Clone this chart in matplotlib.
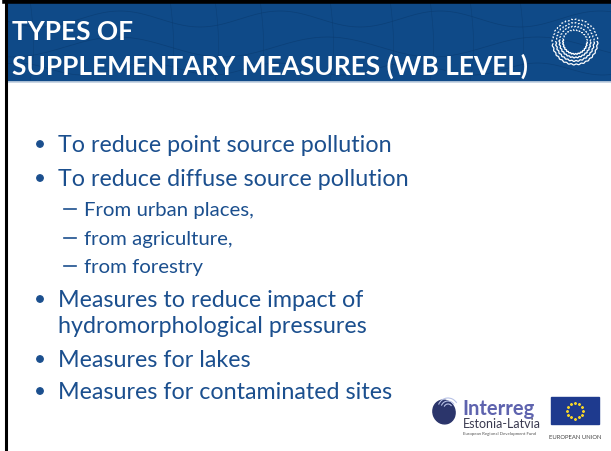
import numpy as np
import matplotlib
matplotlib.use('Agg')
import matplotlib.pyplot as plt
from matplotlib.patches import Rectangle, Circle, Ellipse, Arc

# slide texts
title_lines = ['TYPES OF', 'SUPPLEMENTARY MEASURES (WB LEVEL)']
items = ['To reduce point source pollution',
         'To reduce diffuse source pollution',
         'From urban places,',
         'from agriculture,',
         'from forestry',
         'Measures to reduce impact of',
         'hydromorphological pressures',
         'Measures for lakes',
         'Measures for contaminated sites']
levels = [1, 1, 2, 2, 2, 1, 0, 1, 1]   # 0 = wrapped line, no bullet
baselines = [152, 186, 216, 245, 273, 307, 333, 367, 399]

W, H = 611, 452
header_blue = '#0F4A88'
text_blue = '#1B4F8E'
FONT = 'Lato'

fig = plt.figure(figsize=(W/100, H/100), dpi=100)
ax = fig.add_axes([0, 0, 1, 1])
ax.set_xlim(0, W)
ax.set_ylim(H, 0)
ax.axis('off')
renderer = fig.canvas.get_renderer()

def fit(t, width):
    # scale font size so the text spans the wanted width in pixels
    bb = t.get_window_extent(renderer)
    t.set_fontsize(t.get_fontsize()*width/bb.width)
    return t.get_fontsize()

# frame + header
ax.add_patch(Rectangle((0, 0), W, H, color='white', zorder=0))
ax.add_patch(Rectangle((6, 4), W-6, 78, color=header_blue, zorder=1))
ax.plot([6, W], [82.5, 82.5], color='#C9D6E4', lw=1.2, zorder=2)
ax.plot([5.5, 5.5], [0, H], color='black', lw=2.2, zorder=5)
ax.plot([5, W], [2, 2], color='black', lw=4, zorder=5)

# faint map contours in header
xs = np.linspace(6, W, 300)
for k, (y0, amp, per) in enumerate([(20, 8, 160), (48, 10, 210), (70, 6, 130)]):
    ys = y0 + amp*np.sin((xs + 40*k)/per*2*np.pi)
    m = (ys > 5) & (ys < 81)
    ax.plot(xs[m], ys[m], color='#0A3B70', lw=0.5, alpha=0.7, zorder=2)
for x0 in [30, 170, 215, 260, 330, 390, 430, 470, 520]:
    yy = np.linspace(5, 81, 50)
    ax.plot(x0 + 25*np.sin(yy/60) - yy*0.3, yy, color='#0A3B70', lw=0.4,
            alpha=0.7, zorder=2)

# title
t1 = ax.text(12, 40, title_lines[0], color='white', fontfamily=FONT,
             fontweight='bold', fontsize=20, va='baseline', zorder=6)
t2 = ax.text(12, 75, title_lines[1], color='white', fontfamily=FONT,
             fontweight='bold', fontsize=20, va='baseline', zorder=6)
fit(t2, 515)
t1.set_fontsize(t2.get_fontsize())

# round logo top right: wavy rings, solid lower right, dotted upper left
th = np.linspace(0, 2*np.pi, 400)
for i, r in enumerate([12, 15.5, 19, 22.5]):
    rr = r + 0.5*np.sin(th*28)
    x = 575 + rr*np.cos(th)
    y = 43 + rr*np.sin(th)
    solid = (th < np.pi*1.05 - i*0.1) & (th > -0.2)
    ax.plot(x[solid], y[solid], color='white', lw=0.9, zorder=6)
    dot = ~solid
    ax.plot(x[dot], y[dot], color='white', lw=0.9, ls=(0, (1.5, 1.5)), zorder=6)

# bullets
body = ax.text(58, baselines[0], items[0], fontfamily=FONT, fontsize=18,
               color=text_blue, va='baseline')
fs1 = fit(body, 332)
probe = ax.text(84, 0, items[3], fontfamily=FONT, fontsize=14, va='baseline')
fs2 = fit(probe, 149)
probe.remove()
body.remove()
for txt, lev, yb in zip(items, levels, baselines):
    if lev == 2:
        ax.text(84, yb, txt, fontfamily=FONT, fontsize=fs2, color=text_blue,
                va='baseline')
        ax.plot([64, 76], [yb - 6, yb - 6], color=text_blue, lw=1.2)
    else:
        ax.text(58, yb, txt, fontfamily=FONT, fontsize=fs1, color=text_blue,
                va='baseline')
        if lev == 1:
            ax.add_patch(Circle((40, yb - 7), 3.2, color=text_blue))

# Interreg logo
ax.add_patch(Ellipse((444, 413), 22, 24, angle=-20, color='#2B356B', zorder=3))
for r in [4, 7, 10]:
    ax.add_patch(Arc((448, 409), 2*r, 2*r, theta1=200, theta2=330,
                     color='#B8C2E6', lw=0.8, zorder=4))
ax.text(462, 415, 'Interreg', fontfamily=FONT, fontweight='bold', fontsize=14.5,
        color='#5E63AE', va='baseline')
ax.text(463, 428, 'Estonia-Latvia', fontfamily=FONT, fontsize=9,
        color='#3A3A50', va='baseline')
ax.text(463, 435, 'European Regional Development Fund', fontfamily=FONT,
        fontsize=3.2, color='#555555', va='baseline')

# EU flag
ax.add_patch(Rectangle((551, 398), 48, 27, color='#1E3A8E', zorder=3))
ang = np.linspace(0, 2*np.pi, 13)[:-1]
ax.scatter(575 + 8*np.cos(ang), 411.5 + 8*np.sin(ang), s=1.5, color='#F2D32B',
           marker='*', zorder=4)
ax.text(575, 439, 'EUROPEAN UNION', fontfamily=FONT, fontsize=4.2,
        color='#444444', ha='center', va='baseline')

fig.savefig('out.png', dpi=100)
